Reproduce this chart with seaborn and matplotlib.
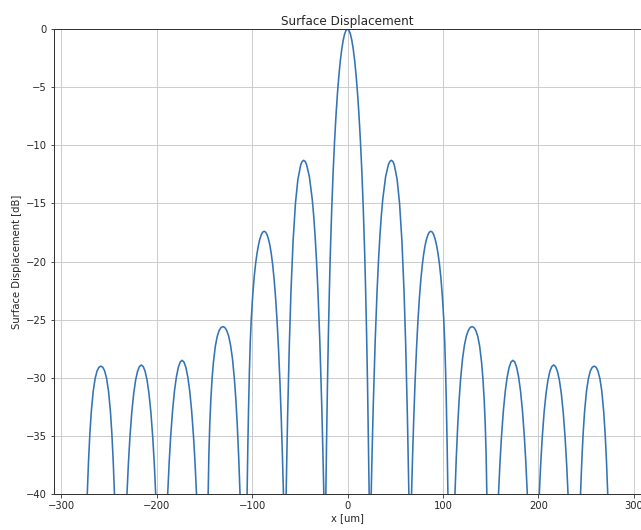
import matplotlib
matplotlib.use("Agg")
import matplotlib.pyplot as plt
import seaborn as sns
import pandas as pd

# Curve samples: (x [um], displacement [dB]).
# -60 dB marks the nulls between lobes, which fall below the -40 dB axis floor.
lobe6_left = [(-276, -60), (-272.65, -40), (-271.3, -37.11), (-269.9, -34.77), (-268.4, -32.89),
              (-266.4, -31.14), (-264.4, -30.06), (-262.4, -29.42), (-260.4, -29.1), (-258.4, -29.0),
              (-256.4, -29.1), (-254.4, -29.42), (-252.4, -30.06), (-250.4, -31.14), (-248.4, -32.89),
              (-246.9, -34.77), (-245.5, -37.11), (-244.15, -40)]
lobe5_left = [(-237.5, -60), (-231.05, -40), (-229.6, -37.45), (-228, -35.17), (-226, -32.96),
              (-224, -31.35), (-222, -30.21), (-220, -29.46), (-218, -29.04), (-216, -28.9),
              (-214, -29.04), (-212, -29.46), (-210, -30.21), (-208, -31.35), (-206, -32.96),
              (-204, -35.17), (-202.4, -37.45), (-200.95, -40)]
lobe4_left = [(-194.5, -60), (-188.4, -40), (-186.8, -37.23), (-185.3, -35.1), (-183.3, -32.84),
              (-181.3, -31.15), (-179.3, -29.94), (-177.3, -29.12), (-175.3, -28.65), (-173.3, -28.5),
              (-171.3, -28.65), (-169.3, -29.12), (-167.3, -29.94), (-165.3, -31.15), (-163.3, -32.84),
              (-161.3, -35.1), (-159.8, -37.23), (-158.2, -40)]
lobe3_left = [(-152, -60), (-146, -40), (-145.2, -36.5), (-144.3, -34.0), (-143.2, -31.9),
              (-141.9, -30.1), (-140.5, -28.7), (-138.5, -27.3), (-136.5, -26.45), (-134.5, -25.94),
              (-132.5, -25.68), (-130.5, -25.6), (-128.5, -25.68), (-126.5, -25.94), (-124.5, -26.42),
              (-122.5, -27.2), (-120.5, -28.38), (-118.5, -30.1), (-117, -31.84), (-115.5, -34.05),
              (-114, -36.82), (-112.6, -40)]
lobe2_left = [(-109, -60), (-105.2, -40), (-104.4, -35.8), (-103.6, -32.4), (-102.8, -29.5),
              (-101.9, -27.0), (-100.8, -24.9), (-99.3, -22.9), (-97.8, -21.35), (-96.3, -20.2),
              (-94.8, -19.3), (-93.3, -18.6), (-91.8, -18.06), (-90.3, -17.69), (-88.8, -17.47),
              (-87.3, -17.4), (-85.8, -17.47), (-84.3, -17.69), (-82.8, -18.07), (-81.3, -18.61),
              (-79.8, -19.36), (-78.3, -20.35), (-76.8, -21.6), (-75.3, -23.16), (-73.8, -25.1),
              (-72.3, -27.47), (-70.8, -30.33), (-69.3, -33.76), (-68.1, -36.97), (-67.1, -40)]
lobe1_left = [(-65.7, -60), (-64.3, -40), (-62.8, -33.5), (-61, -27.28), (-59.2, -22.5),
              (-57, -18.22), (-54.5, -14.96), (-52, -12.95), (-49, -11.68), (-47.5, -11.39),
              (-46, -11.3), (-44.5, -11.38), (-43, -11.63), (-40, -12.67), (-37, -14.6),
              (-35.5, -15.99), (-34, -17.74), (-32.5, -19.88), (-31, -22.5), (-29, -26.85),
              (-27, -32.35), (-25.8, -36.3), (-24.8, -40)]
main_lobe = [(-23.8, -60), (-22.7, -40), (-22, -35.8), (-21, -30.6), (-20, -26.2), (-19, -22.5),
             (-18, -19.3), (-16.5, -15.4), (-15, -12.2), (-13.5, -9.58), (-12, -7.36), (-10.5, -5.51),
             (-9, -3.98), (-7.5, -2.72), (-6, -1.72), (-4.5, -0.96), (-3, -0.42), (-1.5, -0.11),
             (0, 0.0),
             (1.5, -0.11), (3, -0.42), (4.5, -0.96), (6, -1.72), (7.5, -2.72), (9, -3.98),
             (10.5, -5.51), (12, -7.36), (13.5, -9.58), (15, -12.2), (16.5, -15.4), (18, -19.3),
             (19, -22.5), (20, -26.2), (21, -30.6), (22, -35.8), (22.7, -40), (23.8, -60)]
lobe1_right = [(24.8, -40), (25.8, -36.3), (27, -32.35), (29, -26.85), (31, -22.5), (32.5, -19.88),
               (34, -17.74), (35.5, -15.99), (37, -14.6), (40, -12.67), (43, -11.63), (44.5, -11.38),
               (46, -11.3), (47.5, -11.39), (49, -11.68), (52, -12.95), (54.5, -14.96), (57, -18.22),
               (59.2, -22.5), (61, -27.28), (62.8, -33.5), (64.3, -40), (65.7, -60)]
lobe2_right = [(67.1, -40), (68.1, -36.97), (69.3, -33.76), (70.8, -30.33), (72.3, -27.47),
               (73.8, -25.1), (75.3, -23.16), (76.8, -21.6), (78.3, -20.35), (79.8, -19.36),
               (81.3, -18.61), (82.8, -18.07), (84.3, -17.69), (85.8, -17.47), (87.3, -17.4),
               (88.8, -17.47), (90.3, -17.69), (91.8, -18.06), (93.3, -18.6), (94.8, -19.3),
               (96.3, -20.2), (97.8, -21.35), (99.3, -22.9), (100.8, -24.9), (101.9, -27.0),
               (102.8, -29.5), (103.6, -32.4), (104.4, -35.8), (105.2, -40), (109, -60)]
lobe3_right = [(112.6, -40), (114, -36.82), (115.5, -34.05), (117, -31.84), (118.5, -30.1),
               (120.5, -28.38), (122.5, -27.2), (124.5, -26.42), (126.5, -25.94), (128.5, -25.68),
               (130.5, -25.6), (132.5, -25.68), (134.5, -25.94), (136.5, -26.45), (138.5, -27.3),
               (140.5, -28.7), (141.9, -30.1), (143.2, -31.9), (144.3, -34.0), (145.2, -36.5),
               (146, -40), (152, -60)]
lobe4_right = [(158.2, -40), (159.8, -37.23), (161.3, -35.1), (163.3, -32.84), (165.3, -31.15),
               (167.3, -29.94), (169.3, -29.12), (171.3, -28.65), (173.3, -28.5), (175.3, -28.65),
               (177.3, -29.12), (179.3, -29.94), (181.3, -31.15), (183.3, -32.84), (185.3, -35.1),
               (186.8, -37.23), (188.4, -40), (194.5, -60)]
lobe5_right = [(200.95, -40), (202.4, -37.45), (204, -35.17), (206, -32.96), (208, -31.35),
               (210, -30.21), (212, -29.46), (214, -29.04), (216, -28.9), (218, -29.04),
               (220, -29.46), (222, -30.21), (224, -31.35), (226, -32.96), (228, -35.17),
               (229.6, -37.45), (231.05, -40), (237.5, -60)]
lobe6_right = [(244.15, -40), (245.5, -37.11), (246.9, -34.77), (248.4, -32.89), (250.4, -31.14),
               (252.4, -30.06), (254.4, -29.42), (256.4, -29.1), (258.4, -29.0), (260.4, -29.1),
               (262.4, -29.42), (264.4, -30.06), (266.4, -31.14), (268.4, -32.89), (269.9, -34.77),
               (271.3, -37.11), (272.65, -40), (276, -60)]

x_ticks = [-300, -200, -100, 0, 100, 200, 300]
y_ticks = [-40, -35, -30, -25, -20, -15, -10, -5, 0]

segments = [lobe6_left, lobe5_left, lobe4_left, lobe3_left, lobe2_left, lobe1_left, main_lobe,
            lobe1_right, lobe2_right, lobe3_right, lobe4_right, lobe5_right, lobe6_right]
df = pd.DataFrame([pt for seg in segments for pt in seg], columns=["x", "y"])

sns.set_style("ticks")
plt.rcParams['font.family'] = ['DejaVu Sans']

fig = plt.figure(figsize=(641 / 72, 530 / 72), dpi=72)
ax = fig.add_axes([54 / 641, 1 - 494 / 530, 1 - 54 / 641, (494 - 29) / 530])
sns.lineplot(data=df, x="x", y="y", ax=ax, color="#3274b5", linewidth=1.6,
             estimator=None, sort=False)
ax.set_xlim(-307.5, 307.5)
ax.set_ylim(-40, 0)
ax.set_xticks(x_ticks)
ax.set_yticks(y_ticks)
ax.grid(True, color="#c8c8c8", linewidth=0.9)
for s in ax.spines.values():
    s.set_color("#333333")
    s.set_linewidth(1.0)
ax.set_title("Surface Displacement", fontsize=12, pad=4)
ax.set_xlabel("x [um]", fontsize=10, labelpad=2)
ax.set_ylabel("Surface Displacement [dB]", fontsize=10)
ax.tick_params(labelsize=10)

fig.savefig("out.png", dpi=72)
